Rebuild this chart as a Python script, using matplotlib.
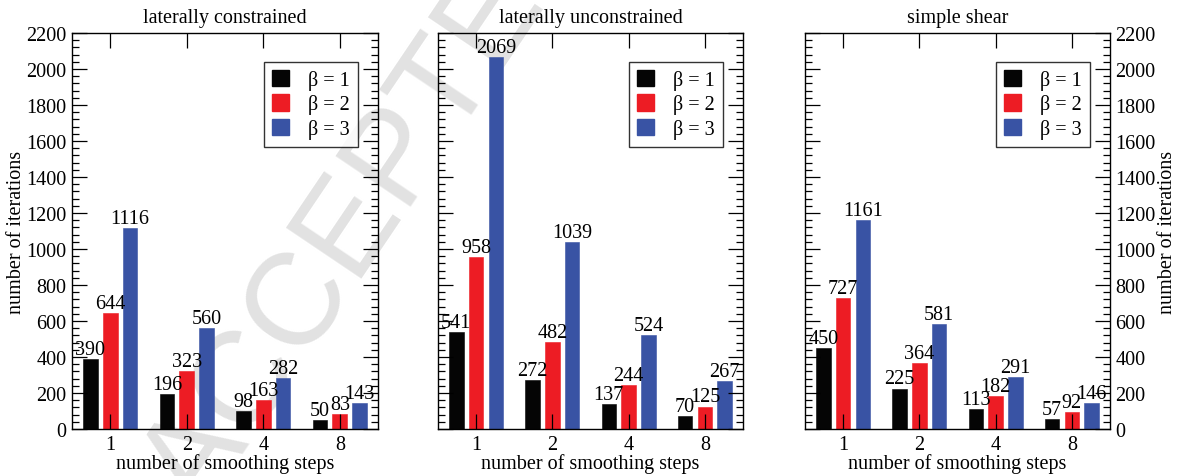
import matplotlib
matplotlib.use("Agg")
import matplotlib.pyplot as plt
import numpy as np
from matplotlib.ticker import MultipleLocator
from matplotlib.patches import Patch

plt.rcParams['font.family'] = ['Liberation Serif', 'DejaVu Serif']

steps = ['1', '2', '4', '8']
titles = ['laterally constrained', 'laterally unconstrained', 'simple shear']
series_labels = ['β = 1', 'β = 2', 'β = 3']
colors = ['#050505', '#ed1c24', '#3953a4']

constrained_b1 = [390, 196, 98, 50]
constrained_b2 = [644, 323, 163, 83]
constrained_b3 = [1116, 560, 282, 143]
unconstrained_b1 = [541, 272, 137, 70]
unconstrained_b2 = [958, 482, 244, 125]
unconstrained_b3 = [2069, 1039, 524, 267]
shear_b1 = [450, 225, 113, 57]
shear_b2 = [727, 364, 182, 92]
shear_b3 = [1161, 581, 291, 146]

panels = [
    [constrained_b1, constrained_b2, constrained_b3],
    [unconstrained_b1, unconstrained_b2, unconstrained_b3],
    [shear_b1, shear_b2, shear_b3],
]

W, H = 1181, 477
fig = plt.figure(figsize=(W / 100, H / 100), dpi=100)

# watermark
fig.text(202 / W, 1 - 515 / H, 'ACCEPTED MANUSCRIPT', fontsize=94,
         family='Liberation Sans', color='#e2e2e2', rotation=56,
         rotation_mode='anchor', ha='left', va='baseline', zorder=-1)

lefts = [72, 438, 805]
right_edges = [378, 743, 1110]
top, bottom = 34, 430
fs = 14.5

x = np.arange(len(steps))
offsets = [-0.26, 0.0, 0.26]
width = 0.19

for i, (series, title) in enumerate(zip(panels, titles)):
    aw = right_edges[i] - lefts[i]
    ax = fig.add_axes([lefts[i] / W, 1 - bottom / H, aw / W, (bottom - top) / H])
    ax.set_facecolor('none')
    handles = []
    for j, vals in enumerate(series):
        ax.bar(x + offsets[j], vals, width=width, color=colors[j],
               edgecolor=colors[j], linewidth=0.4, zorder=1)
        for xb, v in zip(x + offsets[j], vals):
            ax.annotate(str(v), (xb, v), xytext=(0, 0), textcoords='offset points',
                        ha='center', va='bottom', fontsize=fs)
        handles.append(Patch(facecolor=colors[j], edgecolor=colors[j]))
    ax.set_xlim(-0.5, 3.5)
    ax.set_ylim(0, 2200)
    ax.set_xticks(x)
    ax.set_xticklabels(steps)
    ax.yaxis.set_major_locator(MultipleLocator(200))
    ax.yaxis.set_minor_locator(MultipleLocator(40))
    ax.tick_params(axis='x', which='major', direction='in', length=10.5,
                   width=0.9, top=True, bottom=True, labelsize=fs, pad=4)
    ax.tick_params(axis='y', which='major', direction='in', length=10.5,
                   width=0.9, left=True, right=True, labelsize=fs, pad=4)
    ax.tick_params(axis='y', which='minor', direction='in', length=5,
                   width=0.9, left=True, right=True)
    ax.tick_params(axis='x', which='minor', bottom=False, top=False)
    for s in ax.spines.values():
        s.set_linewidth(1.0)
    if i == 0:
        ax.tick_params(axis='y', labelleft=True, labelright=False)
        ax.set_ylabel('number of iterations', fontsize=fs, va='center')
        ax.yaxis.set_label_coords((17 - lefts[i]) / aw, 0.5)
    elif i == 1:
        ax.tick_params(axis='y', labelleft=False, labelright=False)
    else:
        ax.tick_params(axis='y', labelleft=False, labelright=True)
        ax.yaxis.set_label_position('right')
        ax.set_ylabel('number of iterations', fontsize=fs, rotation=90, va='center')
        ax.yaxis.set_label_coords((1168 - lefts[i]) / aw, 0.5)
    ax.set_xlabel('number of smoothing steps', fontsize=fs, labelpad=0)
    ax.set_title(title, fontsize=fs, pad=8)
    leg = ax.legend(handles, series_labels, loc='upper right', fontsize=fs,
                    frameon=True, fancybox=False, edgecolor='black',
                    handlelength=0.85, handleheight=0.85, handletextpad=0.95,
                    labelspacing=0.22, borderpad=0.4, borderaxespad=0,
                    bbox_to_anchor=(1 - 20 / aw, 1 - 29 / (bottom - top)))
    leg.get_frame().set_linewidth(1.0)
    leg.set_zorder(5)

fig.savefig('out.png', dpi=100)
